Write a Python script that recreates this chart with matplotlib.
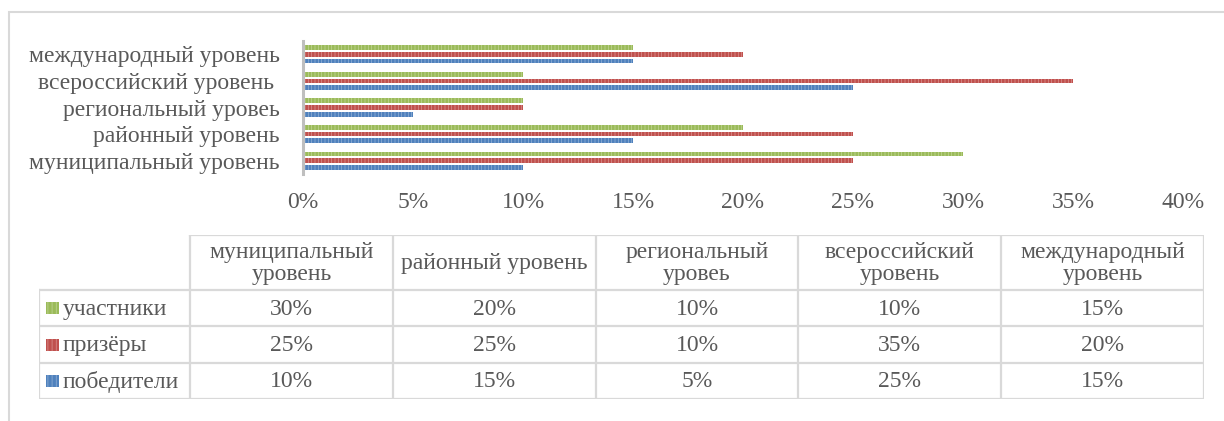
import matplotlib
matplotlib.use('Agg')
import matplotlib.pyplot as plt
from matplotlib.patches import Rectangle
import numpy as np

# ---------------- data ----------------
categories = ["муниципальный уровень", "районный уровень", "региональный уровеь",
              "всероссийский уровень ", "международный уровень"]
table_headers = ["муниципальный\nуровень", "районный уровень", "региональный\nуровеь",
                 "всероссийский\nуровень", "международный\nуровень"]
series_names = ["участники", "призёры", "победители"]
participants = [30, 20, 10, 10, 15]
prize_winners = [25, 25, 10, 35, 20]
winners = [10, 15, 5, 25, 15]
x_ticks = [0, 5, 10, 15, 20, 25, 30, 35, 40]

# ---------------- style ----------------
TEXT = "#595959"
GRID = "#d9d9d9"
FONT = "Liberation Serif"
FS = 17
series_values = [participants, prize_winners, winners]
series_colors = ["#9BBB59", "#C0504D", "#4F81BD"]
series_hatch = ["#C3D69B", "#DA9694", "#95B3D7"]
offsets = [0.25, 0.0, -0.25]

plt.rcParams['font.family'] = [FONT, 'DejaVu Serif']
plt.rcParams['hatch.linewidth'] = 0.5

W, H = 1224, 421
fig = plt.figure(figsize=(W / 100, H / 100), dpi=100)

# outer chart frame (top and left edges visible)
fig.patches.append(Rectangle((9 / W, -0.1), 1.2, 1.1 - 12 / H, transform=fig.transFigure,
                             facecolor="none", edgecolor=GRID, linewidth=1.5))

# ---------------- bar chart ----------------
x0, x1 = 303, 1183
ytop, ybot = 41, 174
ax = fig.add_axes([x0 / W, 1 - ybot / H, (x1 - x0) / W, (ybot - ytop) / H])
idx = np.arange(len(categories))
for vals, col, hc, off in zip(series_values, series_colors, series_hatch, offsets):
    ax.barh(idx + off, vals, height=0.18, color=col, edgecolor=hc, hatch='|||||',
            linewidth=0)
ax.set_xlim(0, 40)
ax.set_ylim(-0.5, len(categories) - 0.5)
ax.set_xticks(x_ticks)
ax.set_xticklabels([f"{v}%" for v in x_ticks], fontsize=FS, color=TEXT)
ax.set_yticks(idx)
ax.set_yticklabels(categories, fontsize=FS, color=TEXT)
ax.tick_params(axis='x', length=0, pad=13)
ax.tick_params(axis='y', length=0, pad=17)
for s in ['top', 'right', 'bottom']:
    ax.spines[s].set_visible(False)
ax.spines['left'].set_color("#bfbfbf")
ax.spines['left'].set_linewidth(2.2)

# ---------------- data table ----------------
tl, tr, tt, tb = 39, 1204, 235, 399
tax = fig.add_axes([tl / W, 1 - tb / H, (tr - tl) / W, (tb - tt) / H])
col_w = [151] + [202.8] * 5
col_b = np.concatenate([[0], np.cumsum(col_w)])
row_h = [55, 36.3, 36.3, 36.3]
row_b = np.concatenate([[0], np.cumsum(row_h)])
tax.set_xlim(0, col_b[-1])
tax.set_ylim(row_b[-1], 0)
tax.axis('off')
lw = 1.6
# horizontal lines
tax.plot([col_b[1], col_b[-1]], [0, 0], color=GRID, lw=lw, solid_capstyle='projecting')
for yb in row_b[1:]:
    tax.plot([0, col_b[-1]], [yb, yb], color=GRID, lw=lw, solid_capstyle='projecting')
# vertical lines
tax.plot([0, 0], [row_b[1], row_b[-1]], color=GRID, lw=lw, solid_capstyle='projecting')
for xb in col_b[1:]:
    tax.plot([xb, xb], [0, row_b[-1]], color=GRID, lw=lw, solid_capstyle='projecting')
# header
for j, h in enumerate(table_headers):
    tax.text((col_b[j + 1] + col_b[j + 2]) / 2, row_h[0] / 2 + 1, h, ha='center', va='center',
             fontsize=FS, color=TEXT, linespacing=1.12)
# rows
for i, (name, vals, col, hc) in enumerate(zip(series_names, series_values, series_colors, series_hatch)):
    yc = (row_b[i + 1] + row_b[i + 2]) / 2
    tax.add_patch(Rectangle((7, yc - 6), 13, 12, facecolor=col, edgecolor=hc,
                            hatch='||||', linewidth=0))
    tax.text(24, yc + 1, name, ha='left', va='center', fontsize=FS, color=TEXT)
    for j, v in enumerate(vals):
        tax.text((col_b[j + 1] + col_b[j + 2]) / 2, yc + 1, f"{v}%", ha='center', va='center',
                 fontsize=FS, color=TEXT)

fig.savefig("out.png", dpi=100)
